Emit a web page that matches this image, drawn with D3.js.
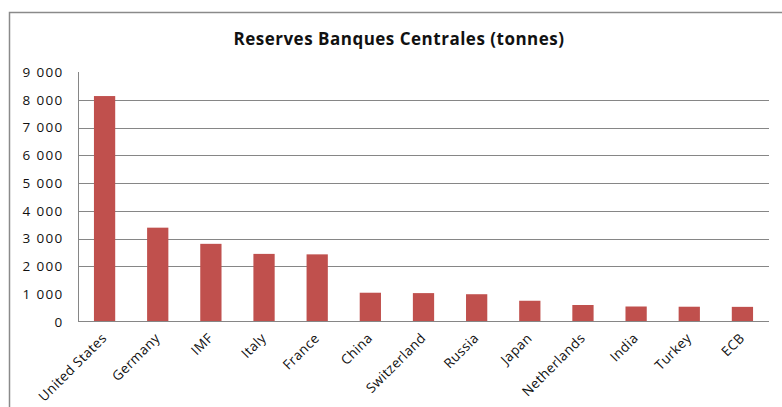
<!DOCTYPE html>
<html>
<head>
<meta charset="utf-8">
<script src="https://cdn.jsdelivr.net/npm/d3@7"></script>
<style>
  html, body { margin: 0; padding: 0; background: #fff; }
  svg { display: block; }
</style>
</head>
<body>
<svg id="chart" width="782" height="407"></svg>
<script>
// Gold reserves held by central banks and institutions (tonnes)
const categories = ["United States", "Germany", "IMF", "Italy", "France", "China",
  "Switzerland", "Russia", "Japan", "Netherlands", "India", "Turkey", "ECB"];
const reserves = [8134, 3396, 2814, 2452, 2435, 1054, 1040, 1000, 765, 612, 558, 550, 545];
const yTicks = [0, 1000, 2000, 3000, 4000, 5000, 6000, 7000, 8000, 9000];
const gridTicks = [2000, 3000, 4000, 5000, 6000, 7000, 8000];
const title = "Reserves Banques Centrales (tonnes)";

const svg = d3.select("#chart");
const W = 782, H = 407;
const plotLeft = 78, plotRight = 769, plotTop = 72, plotBottom = 322;
const font = "'Open Sans', sans-serif";

// Outer chart frame (runs off the right and bottom edges)
svg.append("rect")
  .attr("x", 9.5).attr("y", 12.5)
  .attr("width", W + 20).attr("height", H + 20)
  .attr("fill", "none").attr("stroke", "#8a8a8a").attr("stroke-width", 1.5);

svg.append("text")
  .attr("x", 399).attr("y", 45)
  .attr("text-anchor", "middle")
  .attr("font-family", font)
  .attr("font-weight", "bold")
  .attr("font-size", 17)
  .attr("letter-spacing", 0.5)
  .attr("fill", "#111")
  .text(title);

const x = d3.scaleBand().domain(categories).range([plotLeft, plotRight])
  .paddingInner(0.6).paddingOuter(0.3);
const y = d3.scaleLinear().domain([0, 9000]).range([plotBottom, plotTop]);

const fmt = v => d3.format(",")(v).replace(/,/g, " ");

// Horizontal gridlines
svg.append("g").selectAll("line").data(gridTicks).join("line")
  .attr("x1", plotLeft).attr("x2", plotRight)
  .attr("y1", d => Math.round(y(d)) + 0.5).attr("y2", d => Math.round(y(d)) + 0.5)
  .attr("stroke", "#868686").attr("stroke-width", 1);

// Y axis
const yAxis = svg.append("g")
  .attr("transform", `translate(${plotLeft + 0.5},0)`)
  .call(d3.axisLeft(y).tickValues(yTicks).tickFormat(fmt).tickSize(0).tickPadding(15));
yAxis.select(".domain").attr("stroke", "#868686").attr("d", `M0,${plotTop}V${plotBottom}`);
yAxis.selectAll("text")
  .attr("font-family", font)
  .attr("font-size", 13.5)
  .attr("letter-spacing", 1.3)
  .attr("fill", "#111");

// Bars
svg.append("g").selectAll("rect").data(categories).join("rect")
  .attr("x", d => x(d))
  .attr("y", (d, i) => y(reserves[i]))
  .attr("width", x.bandwidth())
  .attr("height", (d, i) => y(0) - y(reserves[i]))
  .attr("fill", "#C0504D");

// Baseline
svg.append("line")
  .attr("x1", plotLeft).attr("x2", plotRight)
  .attr("y1", plotBottom - 0.5).attr("y2", plotBottom - 0.5)
  .attr("stroke", "#868686").attr("stroke-width", 1.2);

// Category labels, rotated
svg.append("g").selectAll("text").data(categories).join("text")
  .attr("transform", d => `translate(${x(d) + x.bandwidth() / 2 + 3},${plotBottom + 17}) rotate(-45)`)
  .attr("text-anchor", "end")
  .attr("font-family", font)
  .attr("font-size", 13.5)
  .attr("letter-spacing", 0.4)
  .attr("fill", "#111")
  .text(d => d);
</script>
</body>
</html>
